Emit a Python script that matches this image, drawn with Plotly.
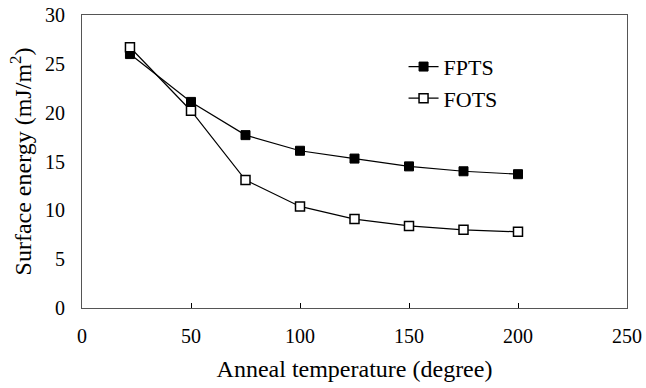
import plotly.graph_objects as go

temps = [22, 50, 75, 100, 125, 150, 175, 200]
fpts = [26.0, 21.1, 17.7, 16.1, 15.3, 14.5, 14.0, 13.7]
fots = [26.7, 20.2, 13.1, 10.4, 9.1, 8.4, 8.0, 7.8]

fam = "Liberation Serif, Times New Roman, serif"
tick_font = dict(family=fam, size=20, color="black")
title_font = dict(family=fam, size=24, color="black")
legend_font = dict(family=fam, size=22, color="black")

fig = go.Figure()
fig.add_trace(go.Scatter(x=temps, y=fpts, name="FPTS", mode="lines+markers",
                         line=dict(color="black", width=1.2),
                         marker=dict(symbol="square", size=9, color="black",
                                     line=dict(color="black", width=1))))
fig.add_trace(go.Scatter(x=temps, y=fots, name="FOTS", mode="lines+markers",
                         line=dict(color="black", width=1.2),
                         marker=dict(symbol="square", size=9, color="white",
                                     line=dict(color="black", width=1.5))))

fig.update_layout(
    width=646, height=388,
    margin=dict(l=82, r=19, t=15, b=80),
    paper_bgcolor="white", plot_bgcolor="white",
    font=tick_font,
    showlegend=True,
    legend=dict(x=0.59, y=0.895, xanchor="left", yanchor="top",
                bgcolor="rgba(0,0,0,0)", font=legend_font, tracegroupgap=0,
                itemwidth=30),
)
fig.update_xaxes(range=[0, 250], tickvals=[0, 50, 100, 150, 200, 250],
                 ticks="inside", ticklen=5, tickcolor="black",
                 ticklabelstandoff=10, tickfont=tick_font, automargin=False,
                 showline=True, linecolor="#555", linewidth=1, mirror=True,
                 showgrid=False, zeroline=False,
                 title=dict(text="Anneal temperature (degree)", font=title_font, standoff=14))
fig.update_yaxes(range=[0, 30], tickvals=[0, 5, 10, 15, 20, 25, 30],
                 ticks="", ticklabelstandoff=12, tickfont=tick_font, automargin=False,
                 showline=True, linecolor="#555", linewidth=1, mirror=True,
                 showgrid=False, zeroline=False,
                 title=dict(text="Surface energy (mJ/m<sup>2</sup>)", font=title_font, standoff=6))

fig.write_html("out.html")
